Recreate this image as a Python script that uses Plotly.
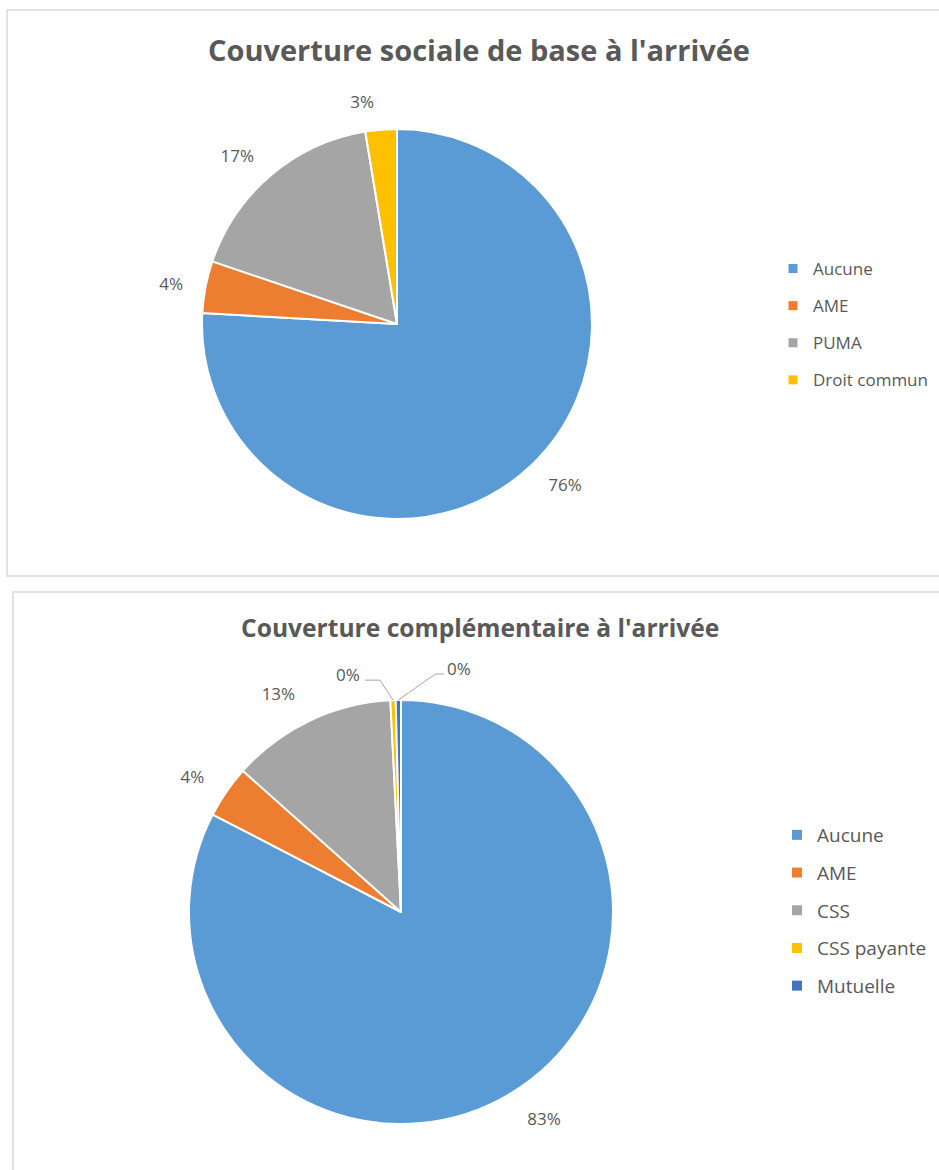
import math
import plotly.graph_objects as go

# ---- data ----
base_labels = ["Aucune", "AME", "PUMA", "Droit commun"]
base_values = [75.9, 4.3, 17.2, 2.6]
base_colors = ["#5B9BD5", "#ED7D31", "#A5A5A5", "#FFC000"]

comp_labels = ["Aucune", "AME", "CSS", "CSS payante", "Mutuelle"]
comp_values = [82.6, 4.0, 12.6, 0.4, 0.4]
comp_colors = ["#5B9BD5", "#ED7D31", "#A5A5A5", "#FFC000", "#4472C4"]

title_top = "Couverture sociale de base à l'arrivée"
title_bottom = "Couverture complémentaire à l'arrivée"

W, H = 939, 1170
TXT = "#595959"
FONT = "Open Sans"

# pie geometry (pixels)
C1, R1, G1 = (397, 324), 195, 17   # centre, radius, extra gap for labels
C2, R2, G2 = (401, 912), 212, 20


def dom(c, r):
    return dict(x=[(c[0] - r) / W, (c[0] + r) / W],
                y=[1 - (c[1] + r) / H, 1 - (c[1] - r) / H])


fig = go.Figure()

# visible pies
fig.add_trace(go.Pie(
    labels=base_labels, values=base_values, sort=False, direction="clockwise",
    marker=dict(colors=base_colors, line=dict(color="white", width=2)),
    textinfo="none", domain=dom(C1, R1), showlegend=False,
    hoverinfo="label+percent",
))
fig.add_trace(go.Pie(
    labels=comp_labels, values=comp_values, sort=False, direction="clockwise",
    marker=dict(colors=comp_colors, line=dict(color="white", width=2)),
    textinfo="none", domain=dom(C2, R2), showlegend=False,
    hoverinfo="label+percent",
))

# transparent, slightly larger pies carrying the data labels
fig.add_trace(go.Pie(
    labels=base_labels, values=base_values, sort=False, direction="clockwise",
    marker=dict(colors=["rgba(0,0,0,0)"] * len(base_values), line=dict(width=0)),
    textposition="outside", texttemplate="%{percent:.0%}",
    outsidetextfont=dict(family=FONT, size=17, color=TXT),
    domain=dom(C1, R1 + G1), showlegend=False, hoverinfo="skip",
))
small = [v / sum(comp_values) < 0.01 for v in comp_values]
fig.add_trace(go.Pie(
    labels=comp_labels, values=comp_values, sort=False, direction="clockwise",
    marker=dict(colors=["rgba(0,0,0,0)"] * len(comp_values), line=dict(width=0)),
    textposition="outside",
    texttemplate=["" if s else "%{percent:.0%}" for s in small],
    outsidetextfont=dict(family=FONT, size=17, color=TXT),
    domain=dom(C2, R2 + G2), showlegend=False, hoverinfo="skip",
))

# legend entries (one per category)
for lab, col in zip(base_labels, base_colors):
    fig.add_trace(go.Scatter(
        x=[None], y=[None], mode="markers", name=lab,
        marker=dict(symbol="square", size=9, color=col),
        legend="legend", legendgroup="b_" + lab, showlegend=True,
    ))
for lab, col in zip(comp_labels, comp_colors):
    fig.add_trace(go.Scatter(
        x=[None], y=[None], mode="markers", name=lab,
        marker=dict(symbol="square", size=10, color=col),
        legend="legend2", legendgroup="c_" + lab, showlegend=True,
    ))

# titles, frames, leader lines + labels for the tiny slices of the bottom pie
annotations = [
    dict(text="<b>" + title_top + "</b>", x=479 / W, y=1 - 50 / H,
         xref="paper", yref="paper", showarrow=False, yanchor="middle",
         font=dict(family=FONT, size=29, color=TXT)),
    dict(text="<b>" + title_bottom + "</b>", x=480 / W, y=1 - 627 / H,
         xref="paper", yref="paper", showarrow=False, yanchor="middle",
         font=dict(family=FONT, size=24.6, color=TXT)),
]
shapes = [
    dict(type="rect", xref="paper", yref="paper",
         x0=7 / W, x1=1.05, y0=1 - 576 / H, y1=1 - 10 / H,
         line=dict(color="#D9D9D9", width=1.5), fillcolor="rgba(0,0,0,0)"),
    dict(type="rect", xref="paper", yref="paper",
         x0=13 / W, x1=1.05, y0=-0.05, y1=1 - 592 / H,
         line=dict(color="#D9D9D9", width=1.5), fillcolor="rgba(0,0,0,0)"),
]

total = sum(comp_values)
cum = 0.0
side = 0
for v, s in zip(comp_values, small):
    mid = (cum + v / 2) / total * 2 * math.pi
    cum += v
    if not s:
        continue
    ex = C2[0] + R2 * math.sin(mid)
    ey = C2[1] - R2 * math.cos(mid)
    if side == 0:
        kx, ky, tx, ty = ex - 13, ey - 20, ex - 28, ey - 20
        lx, anchor = tx - 3, "right"
    else:
        kx, ky, tx, ty = ex + 37, ey - 26, ex + 46, ey - 26
        lx, anchor = tx + 1, "left"
    side += 1
    pct = f"{round(v / total * 100):d}%"
    shapes.append(dict(
        type="path", xref="paper", yref="paper",
        path=f"M {ex / W} {1 - ey / H} L {kx / W} {1 - ky / H} L {tx / W} {1 - ty / H}",
        line=dict(color="#A6A6A6", width=1),
    ))
    annotations.append(dict(
        text=pct, x=lx / W, y=1 - (ty - 6) / H, xref="paper", yref="paper",
        xanchor=anchor, yanchor="middle", showarrow=False,
        font=dict(family=FONT, size=17, color=TXT),
    ))

fig.update_layout(
    width=W, height=H,
    margin=dict(l=0, r=0, t=0, b=0),
    paper_bgcolor="white", plot_bgcolor="rgba(0,0,0,0)",
    xaxis=dict(visible=False), yaxis=dict(visible=False),
    font=dict(family=FONT, color=TXT),
    legend=dict(
        x=773 / W, y=1 - 251 / H, xanchor="left", yanchor="top",
        font=dict(family=FONT, size=17, color=TXT),
        tracegroupgap=12, traceorder="grouped", bgcolor="rgba(0,0,0,0)",
    ),
    legend2=dict(
        x=777 / W, y=1 - 816 / H, xanchor="left", yanchor="top",
        font=dict(family=FONT, size=19, color=TXT),
        tracegroupgap=10, traceorder="grouped", bgcolor="rgba(0,0,0,0)",
    ),
    annotations=annotations,
    shapes=shapes,
)

fig.write_html("out.html")
